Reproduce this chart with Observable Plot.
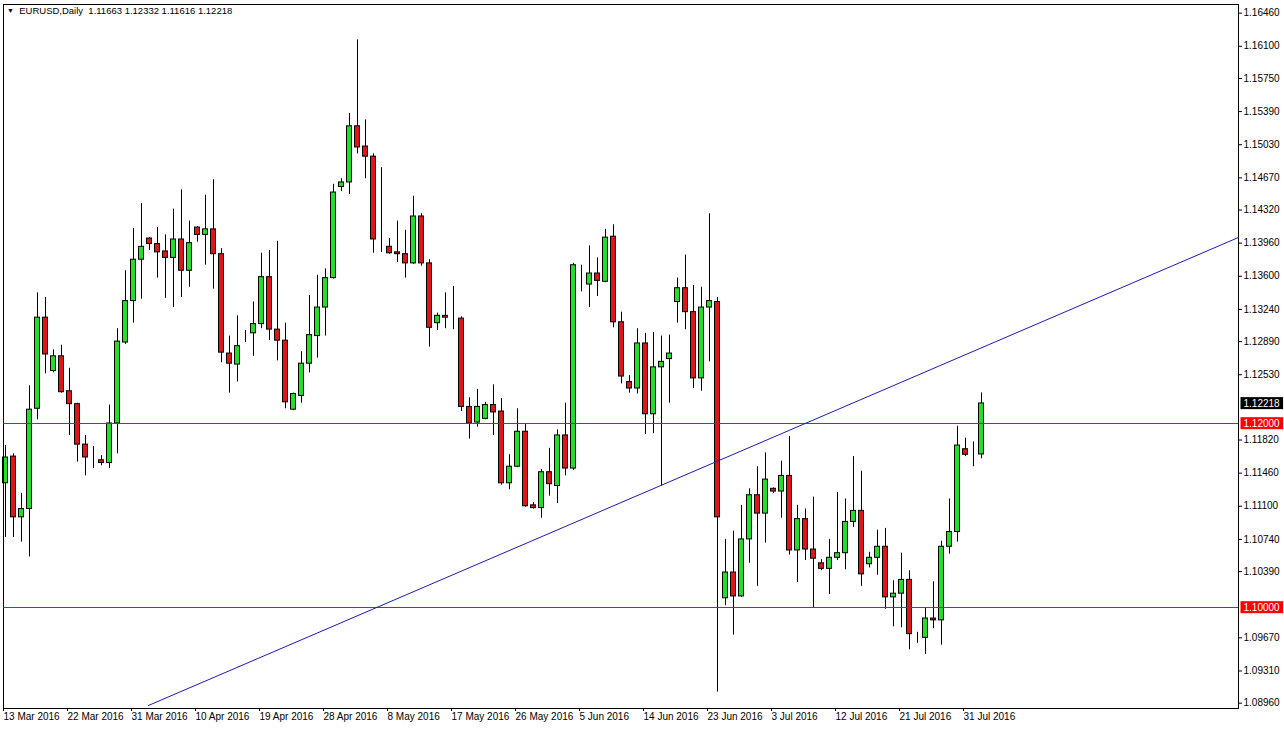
<!DOCTYPE html>
<html>
<head>
<meta charset="utf-8">
<script src="https://cdn.jsdelivr.net/npm/d3@7"></script>
<script src="https://cdn.jsdelivr.net/npm/@observablehq/plot@0.6"></script>
<style>
  html, body { margin: 0; padding: 0; background: #fff; }
  #wrap { position: relative; width: 1284px; height: 730px; }
  #header { position: absolute; left: 7px; top: 5px; font: 9.5px "Liberation Sans", Arial, sans-serif; color: #000; white-space: pre; }
  #header .tri { font-size: 7px; position: relative; top: -1px; }
</style>
</head>
<body>
<div id="wrap">
  <div id="chart"></div>
  <div id="header"><span class="tri">▼</span>  EURUSD,Daily  1.11663 1.12332 1.11616 1.12218</div>
</div>
<script>
// Daily bars, index 0 = 13 Mar 2016
const open = [1.1135,1.1164,1.1098,1.1107,1.1216,1.1315,1.1257,1.1273,1.1235,1.1221,
1.1177,1.1163,1.1160,1.1157,1.1200,1.1288,1.1333,1.1378,1.1401,1.1395,
1.1387,1.1380,1.1400,1.1366,1.1413,1.1405,1.1411,1.1384,1.1276,1.1264,
1.1298,1.1298,1.1308,1.1359,1.1302,1.1290,1.1215,1.1230,1.1265,1.1295,
1.1326,1.1358,1.1457,1.1462,1.1523,1.1501,1.1490,1.1400,1.1392,1.1386,
1.1384,1.1374,1.1425,1.1374,1.1309,1.1317,1.1315,1.1314,1.1218,1.1201,
1.1205,1.1220,1.1213,1.1135,1.1153,1.1191,1.1111,1.1108,1.1147,1.1132,
1.1187,1.1151,1.1351,1.1351,1.1363,1.1354,1.1403,1.1310,1.1245,1.1238,
1.1287,1.1210,1.1261,1.1270,1.1332,1.1347,1.1321,1.1249,1.1326,1.1332,
1.1010,1.1038,1.1012,1.1074,1.1122,1.1102,1.1129,1.1126,1.1143,1.1062,
1.1096,1.1063,1.1048,1.1042,1.1054,1.1059,1.1093,1.1105,1.1047,1.1054,
1.1066,1.1011,1.1015,1.1030,1.0967,1.0967,1.0988,1.0986,1.1066,1.1082,
1.1172,1.1166,1.11663];
const high = [1.1176,1.1167,1.1124,1.1241,1.1342,1.1337,1.1280,1.1285,1.1260,1.1222,
1.1187,1.1175,1.1165,1.1220,1.1303,1.1366,1.1412,1.1439,1.1402,1.1413,
1.1405,1.1433,1.1454,1.1420,1.1414,1.1448,1.1465,1.1390,1.1295,1.1317,
1.1301,1.1332,1.1385,1.1388,1.1398,1.1309,1.1233,1.1278,1.1339,1.1361,
1.1368,1.1460,1.1466,1.1537,1.1617,1.1530,1.1493,1.1478,1.1401,1.1420,
1.1410,1.1447,1.1428,1.1378,1.1320,1.1342,1.1349,1.1316,1.1228,1.1237,
1.1223,1.1242,1.1227,1.1166,1.1216,1.1200,1.1114,1.1150,1.1173,1.1193,
1.1222,1.1374,1.1372,1.1393,1.1380,1.1411,1.1416,1.1321,1.1252,1.1303,
1.1298,1.1299,1.1295,1.1296,1.1358,1.1383,1.1350,1.1348,1.1428,1.1337,
1.1074,1.1083,1.1111,1.1129,1.1153,1.1168,1.1130,1.1159,1.1186,1.1111,
1.1107,1.1120,1.1052,1.1074,1.1125,1.1118,1.1164,1.1148,1.1060,1.1084,
1.1086,1.1029,1.1059,1.1040,1.0973,1.0999,1.1028,1.1072,1.1118,1.1197,
1.1184,1.1180,1.12332];
const low = [1.1076,1.1076,1.1071,1.1055,1.1204,1.1254,1.1255,1.1233,1.1187,1.1158,
1.1143,1.1151,1.1154,1.1151,1.1167,1.1286,1.1309,1.1335,1.1388,1.1358,
1.1336,1.1326,1.1337,1.1348,1.1397,1.1372,1.1346,1.1266,1.1233,1.1245,
1.1288,1.1273,1.1303,1.1290,1.1268,1.1216,1.1214,1.1222,1.1255,1.1271,
1.1295,1.1357,1.1452,1.1449,1.1493,1.1466,1.1385,1.1386,1.1384,1.1375,
1.1358,1.1373,1.1371,1.1283,1.1301,1.1303,1.1302,1.1213,1.1183,1.1196,
1.1204,1.1187,1.1133,1.1128,1.1152,1.1109,1.1107,1.1097,1.1121,1.1113,
1.1143,1.1149,1.1343,1.1326,1.1338,1.1353,1.1304,1.1243,1.1233,1.1232,
1.1188,1.1189,1.1132,1.1222,1.1309,1.1302,1.1238,1.1235,1.1267,1.0908,
1.1002,1.0970,1.1011,1.1048,1.1023,1.1070,1.1124,1.1097,1.1057,1.1027,
1.1051,1.1000,1.1040,1.1014,1.1051,1.1041,1.1087,1.1023,1.1043,1.1035,
1.0998,1.0979,1.0978,1.0954,1.0961,1.0949,1.0977,1.0959,1.1058,1.1071,
1.1164,1.1153,1.11616];
const close = [1.1163,1.1098,1.1107,1.1215,1.1315,1.1275,1.1273,1.1234,1.1221,1.1177,
1.1163,1.1163,1.1157,1.1200,1.1289,1.1333,1.1378,1.1392,1.1395,1.1386,
1.1380,1.1400,1.1366,1.1396,1.1405,1.1411,1.1384,1.1277,1.1265,1.1284,
1.1298,1.1308,1.1359,1.1302,1.1290,1.1223,1.1232,1.1265,1.1296,1.1326,
1.1358,1.1451,1.1462,1.1523,1.1500,1.1490,1.1400,1.1400,1.1385,1.1384,
1.1374,1.1425,1.1374,1.1304,1.1317,1.1315,1.1315,1.1218,1.1200,1.1218,
1.1220,1.1212,1.1135,1.1153,1.1191,1.1110,1.1108,1.1147,1.1134,1.1187,
1.1151,1.1372,1.1351,1.1363,1.1355,1.1402,1.1310,1.1251,1.1238,1.1287,
1.1210,1.1261,1.1267,1.1276,1.1347,1.1321,1.1249,1.1326,1.1333,1.1098,
1.1038,1.1012,1.1074,1.1122,1.1102,1.1139,1.1126,1.1143,1.1062,1.1096,
1.1063,1.1053,1.1042,1.1054,1.1059,1.1093,1.1105,1.1036,1.1054,1.1066,
1.1011,1.1015,1.1030,1.0971,1.0967,1.0988,1.0986,1.1066,1.1082,1.1176,
1.1166,1.1166,1.12218];

// x-axis date labels (every 8 bars)
const dateLabels = ["13 Mar 2016","22 Mar 2016","31 Mar 2016","10 Apr 2016","19 Apr 2016","28 Apr 2016",
  "8 May 2016","17 May 2016","26 May 2016","5 Jun 2016","14 Jun 2016","23 Jun 2016",
  "3 Jul 2016","12 Jul 2016","21 Jul 2016","31 Jul 2016"];
const dateBars = [0,8,16,24,32,40,48,56,64,72,80,88,96,104,112,120];

// right price-axis tick labels
const priceTicks = [1.16460,1.16100,1.15750,1.15390,1.15030,1.14670,1.14320,1.13960,1.13600,
  1.13240,1.12890,1.12530,1.11820,1.11460,1.11100,1.10740,1.10390,1.09670,1.09310,1.08960];

// horizontal support/resistance levels
const levels = [1.12000, 1.10000];
// trendline anchor points (bar index, price)
const trendBars = [17.875, 154.125];
const trendPrices = [1.08935, 1.14022];
// highlighted price labels
const markPrices = [1.12218, 1.12000, 1.10000];
const markColors = ["#000000", "#ff0000", "#ff0000"];

const BULL = "#22e022", BEAR = "#e01515", LEVEL = "#ff0000";

const candles = open.map((o, i) => ({i, open: o, high: high[i], low: low[i], close: close[i]}));
const trend = trendBars.map((b, k) => ({i: b, price: trendPrices[k]}));
const priceMarks = markPrices.map((p, k) => ({price: p, color: markColors[k], label: p.toFixed(5)}));
const levelRows = levels.map(p => ({price: p}));

const chart = Plot.plot({
  width: 1284,
  height: 730,
  marginLeft: 3,
  marginRight: 46,
  marginTop: 4,
  marginBottom: 22,
  x: {domain: [-0.25, 154.125], axis: null, label: null},
  y: {domain: [1.08902, 1.16554], axis: null, label: null},
  style: {fontFamily: "'Liberation Sans', Arial, sans-serif", fontSize: "10px", background: "#fff", color: "#000"},
  marks: [
    Plot.ruleX(candles, {x: "i", y1: "low", y2: "high", stroke: "#000", strokeWidth: 1}),
    Plot.rect(candles, {
      x1: d => d.i - 0.3125, x2: d => d.i + 0.3125,
      y1: "open", y2: "close",
      fill: d => d.close > d.open ? BULL : d.close < d.open ? BEAR : "#000",
      stroke: "#000", strokeWidth: 1
    }),
    Plot.frame({stroke: "#000"}),
    Plot.ruleY(levelRows, {y: "price", stroke: LEVEL, strokeWidth: 1, strokeOpacity: 1}),
    Plot.line(trend, {x: "i", y: "price", stroke: "#1a1ab8", strokeWidth: 1}),
    Plot.axisY(priceTicks, {anchor: "right", label: null, tickSize: 3, tickPadding: 2, tickFormat: d => d.toFixed(5), fontSize: 10, textAnchor: "start"}),
    Plot.axisX(dateBars, {anchor: "bottom", label: null, tickSize: 3, tickPadding: 1, textAnchor: "start", dx: -2,
      tickFormat: d => dateLabels[dateBars.indexOf(d)], fontSize: 10}),
    Plot.text(priceMarks, {y: "price", text: "label", frameAnchor: "right", dx: 5, textAnchor: "start", fill: "#fff", fontSize: 10})
  ]
});
document.getElementById("chart").appendChild(chart);

// draw the coloured boxes behind the highlighted price labels
const root = chart.tagName.toLowerCase() === "svg" ? chart : chart.querySelector("svg");
d3.select(root).selectAll("text").each(function() {
  const t = this.textContent;
  const k = priceMarks.findIndex(m => m.label === t);
  if (k < 0) return;
  const bb = this.getBBox();
  const cy = bb.y + bb.height / 2;
  d3.select(this.parentNode).insert("rect", () => this)
    .attr("transform", this.getAttribute("transform"))
    .attr("x", bb.x - 3).attr("y", cy - 6)
    .attr("width", bb.width + 6).attr("height", 12)
    .attr("fill", priceMarks[k].color);
});
</script>
</body>
</html>
